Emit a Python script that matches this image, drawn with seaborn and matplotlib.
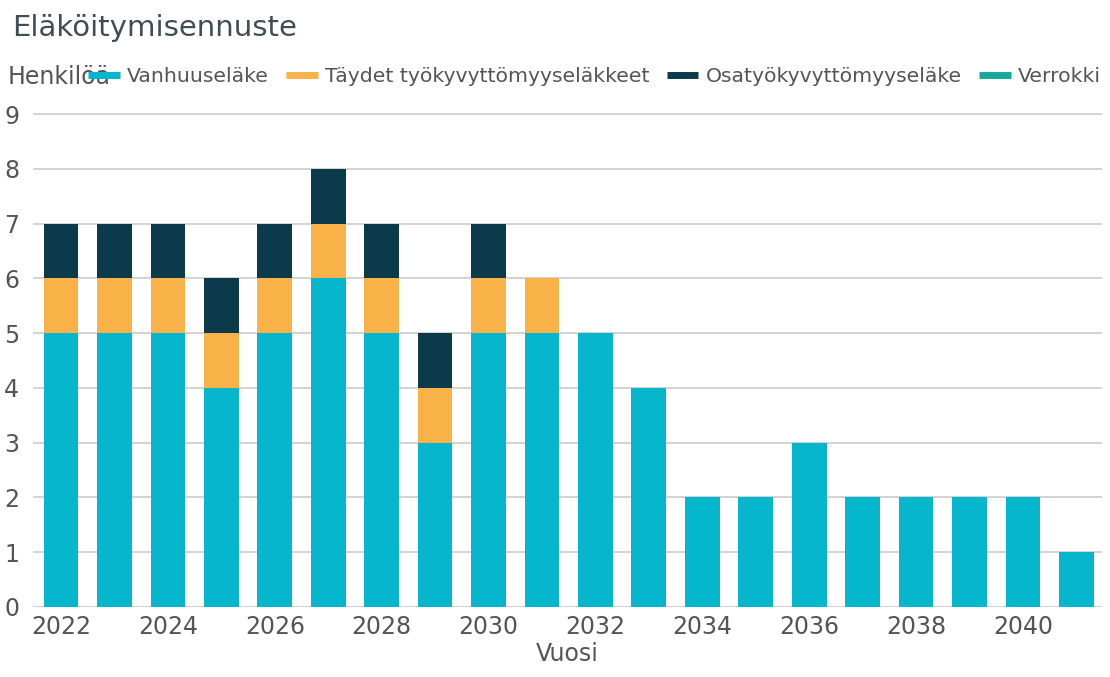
import numpy as np
import pandas as pd
import matplotlib
matplotlib.use("Agg")
import matplotlib.pyplot as plt
from matplotlib.lines import Line2D
import seaborn as sns

# eläköitymisennuste, henkilöä per vuosi
vuodet = list(range(2022, 2042))
vanhuus = [5, 5, 5, 4, 5, 6, 5, 3, 5, 5, 5, 4, 2, 2, 3, 2, 2, 2, 2, 1]
taydet = [1, 1, 1, 1, 1, 1, 1, 1, 1, 1, 0, 0, 0, 0, 0, 0, 0, 0, 0, 0]
osa = [1, 1, 1, 1, 1, 1, 1, 1, 1, 0, 0, 0, 0, 0, 0, 0, 0, 0, 0, 0]
sarjat = ["Vanhuuseläke", "Täydet työkyvyttömyyseläkkeet", "Osatyökyvyttömyyseläke", "Verrokki"]
xtick_vuodet = list(range(2022, 2041, 2))

C_VANHUUS = "#06b6cc"
C_TAYDET = "#f8b247"
C_OSA = "#0b3a4a"
C_VERROKKI = "#15a89c"
TXT = "#555555"
GRID = "#cccccc"

df = pd.DataFrame({"vuosi": [str(v) for v in vuodet],
                   "vanhuus": vanhuus, "taydet": taydet, "osa": osa})
df["kerros2"] = df["vanhuus"] + df["taydet"]
df["kerros3"] = df["kerros2"] + df["osa"]

sns.set_style("white")
plt.rcParams["font.family"] = ["DejaVu Sans"]

fig = plt.figure(figsize=(11.1, 6.77), dpi=100)
ax = fig.add_axes([33 / 1110, 70 / 677, 1069 / 1110, 494 / 677])

order = df["vuosi"].tolist()
# pinotaan piirtämällä kumulatiiviset summat päällekkäin
for col, c in [("kerros3", C_OSA), ("kerros2", C_TAYDET), ("vanhuus", C_VANHUUS)]:
    sns.barplot(data=df, x="vuosi", y=col, order=order, color=c, width=0.65,
                saturation=1, ax=ax, zorder=3, linewidth=0)

ax.set_ylim(0, 9.02)
ax.set_xlim(-0.525, 19.48)
ax.set_yticks(range(0, 10))
ax.set_xticks([vuodet.index(v) for v in xtick_vuodet])
ax.set_xticklabels([str(v) for v in xtick_vuodet])
ax.yaxis.grid(True, color=GRID, lw=1.2, zorder=0)
ax.xaxis.grid(False)
for s in ax.spines.values():
    s.set_visible(False)
ax.tick_params(axis="both", length=0, labelsize=17, colors=TXT)
ax.tick_params(axis="y", pad=10)
ax.tick_params(axis="x", pad=6)
ax.set_ylabel("")
ax.set_xlabel("Vuosi", fontsize=17, color=TXT, labelpad=2)

fig.text(12 / 1110, 1 - 28 / 677, "Eläköitymisennuste", fontsize=21, color="#3d4f55",
         va="center", ha="left")
fig.text(8 / 1110, 1 - 77 / 677, "Henkilöä", fontsize=17, color=TXT, va="center", ha="left")

handles = [Line2D([0], [0], color=c, lw=5, solid_capstyle="butt")
           for c in [C_VANHUUS, C_TAYDET, C_OSA, C_VERROKKI]]
leg = fig.legend(handles, sarjat, loc="center left", bbox_to_anchor=(88 / 1110, 1 - 77 / 677),
                 ncol=4, frameon=False, fontsize=14.7, handlelength=1.55, handletextpad=0.35,
                 columnspacing=0.85, borderaxespad=0, borderpad=0)
for t in leg.get_texts():
    t.set_color(TXT)

fig.savefig("out.png", dpi=100, facecolor="white")
